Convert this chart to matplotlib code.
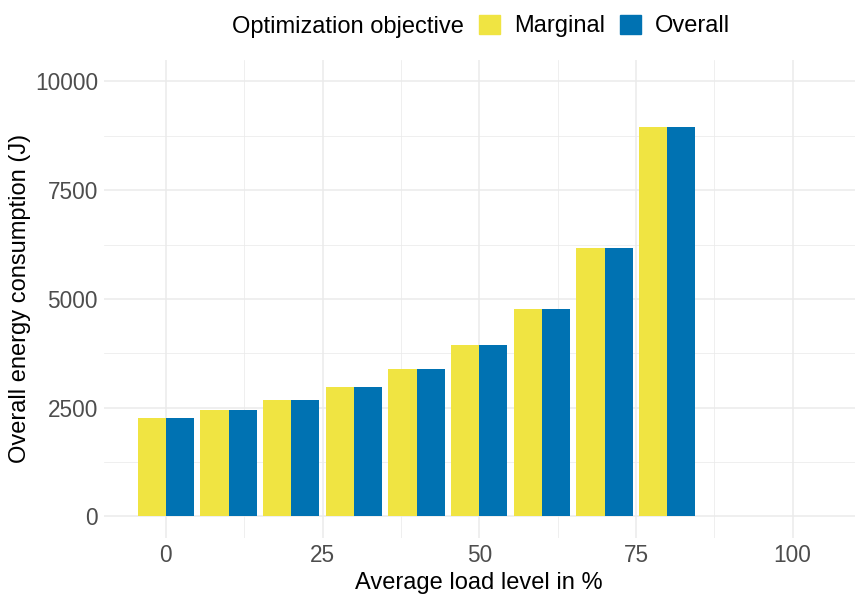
import matplotlib
matplotlib.use("Agg")
import matplotlib.pyplot as plt
import matplotlib.patches as mpatches
import numpy as np

plt.rcParams['font.family'] = ['Liberation Sans', 'DejaVu Sans']

# data
load_levels = [0, 10, 20, 30, 40, 50, 60, 70, 80]
marginal = [2260, 2440, 2670, 2975, 3380, 3935, 4765, 6175, 8950]
overall = [2260, 2440, 2670, 2975, 3380, 3935, 4765, 6175, 8950]
series_names = ['Marginal', 'Overall']
series_colors = ['#F0E442', '#0072B2']
x_ticks = [0, 25, 50, 75, 100]
y_ticks = [0, 2500, 5000, 7500, 10000]

fig = plt.figure(figsize=(8.61, 6.02), dpi=100)
ax = fig.add_axes([0.1203, 0.106, 0.8727, 0.795])

bar_w = 4.5
x = np.array(load_levels, dtype=float)
ax.bar(x - bar_w / 2, marginal, width=bar_w, color=series_colors[0], zorder=3)
ax.bar(x + bar_w / 2, overall, width=bar_w, color=series_colors[1], zorder=3)

ax.set_xlim(-9.95, 109.95)
ax.set_ylim(-500, 10500)
ax.set_xticks(x_ticks)
ax.set_yticks(y_ticks)
ax.set_xticks([12.5, 37.5, 62.5, 87.5], minor=True)
ax.set_yticks([1250, 3750, 6250, 8750], minor=True)
ax.grid(which='major', color='#EBEBEB', linewidth=1.1, zorder=0)
ax.grid(which='minor', color='#EBEBEB', linewidth=0.55, zorder=0)
for s in ax.spines.values():
    s.set_visible(False)
ax.tick_params(which='both', length=0)
ax.tick_params(axis='both', labelsize=16.3, labelcolor='#4D4D4D', pad=4)

ax.set_xlabel('Average load level in %', fontsize=17, labelpad=4)
ax.set_ylabel('Overall energy consumption (J)', fontsize=17, labelpad=2.5)

# legend on top, title to the left of the keys
fig.text(232 / 861, 1 - 27 / 602, 'Optimization objective', fontsize=17,
         ha='left', va='center')
handles = [mpatches.Patch(color=c, label=n) for c, n in zip(series_colors, series_names)]
fig.legend(handles=handles, ncol=2, frameon=False, fontsize=17,
           loc='center left', bbox_to_anchor=(479 / 861, 1 - 26 / 602),
           handlelength=0.9, handleheight=0.9, handletextpad=0.6,
           columnspacing=0.6, borderaxespad=0, borderpad=0)

fig.savefig('out.png', dpi=100)
